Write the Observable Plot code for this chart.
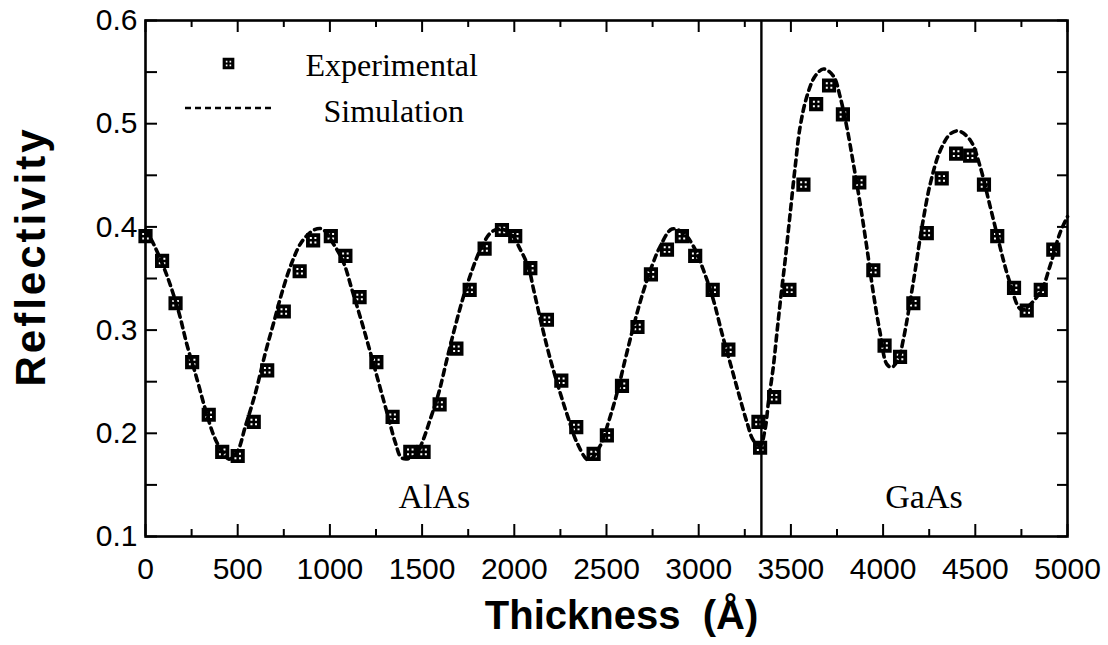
<!DOCTYPE html>
<html><head><meta charset="utf-8">
<script src="https://cdn.jsdelivr.net/npm/d3@7"></script>
<script src="https://cdn.jsdelivr.net/npm/@observablehq/plot@0.6"></script>
<style>body{margin:0;background:#fff}#chart{width:1108px;height:645px}</style>
</head><body><div id="chart"></div>
<script>
// Experimental points (thickness in Å, reflectivity)
const expX = [0, 90, 163, 253, 343, 416, 500, 587, 660, 750, 836, 909, 1005, 1084, 1161, 1252, 1340, 1436, 1508, 1595,
  1686, 1758, 1839, 1933, 2005, 2087, 2177, 2255, 2336, 2430, 2502, 2584, 2668, 2741, 2828, 2909, 2981, 3076, 3161, 3324,
  3333, 3409, 3492, 3568, 3637, 3707, 3782, 3871, 3947, 4008, 4092, 4164, 4237, 4318, 4396, 4472, 4547, 4619, 4710, 4779,
  4855, 4923];
const expY = [0.391, 0.367, 0.326, 0.269, 0.218, 0.182, 0.178, 0.211, 0.261, 0.318, 0.357, 0.387, 0.391, 0.372, 0.332, 0.269, 0.216, 0.182, 0.182, 0.228,
  0.282, 0.339, 0.379, 0.397, 0.391, 0.360, 0.310, 0.251, 0.206, 0.180, 0.198, 0.246, 0.303, 0.354, 0.378, 0.391, 0.372, 0.339, 0.281, 0.211,
  0.186, 0.235, 0.339, 0.441, 0.519, 0.537, 0.509, 0.443, 0.358, 0.285, 0.274, 0.326, 0.394, 0.447, 0.471, 0.469, 0.441, 0.391, 0.341, 0.319,
  0.339, 0.378];
// Simulation curve
const simX = [0, 45, 118, 181, 226, 280, 325, 370, 416, 452, 497, 542, 596, 650, 695, 741, 795, 849, 913, 958,
  1021, 1075, 1120, 1174, 1220, 1274, 1319, 1355, 1391, 1463, 1500, 1545, 1590, 1635, 1680, 1725, 1771, 1816, 1870, 1915, 1978, 2033, 2078,
  2105, 2150, 2195, 2249, 2294, 2340, 2403, 2466, 2511, 2557, 2602, 2647, 2692, 2746, 2791, 2855, 2918, 2972, 3026, 3080, 3126, 3171, 3216, 3261, 3297, 3333,
  3360, 3378, 3405, 3424, 3446, 3469, 3496, 3523, 3550, 3586, 3631, 3677, 3731, 3767, 3803, 3839, 3875, 3911, 3947, 3984, 4020, 4047, 4083, 4110,
  4166, 4211, 4256, 4310, 4364, 4409, 4473, 4527, 4572, 4616, 4652, 4688, 4750, 4850, 4905, 4959, 5000];
const simY = [0.397, 0.383, 0.352, 0.317, 0.285, 0.252, 0.223, 0.198, 0.182, 0.175, 0.182, 0.207, 0.239, 0.278, 0.307, 0.337, 0.366, 0.386, 0.397, 0.398,
  0.383, 0.365, 0.339, 0.307, 0.278, 0.243, 0.214, 0.191, 0.176, 0.178, 0.191, 0.214, 0.239, 0.272, 0.304, 0.333, 0.358, 0.378, 0.394, 0.398, 0.394, 0.378, 0.360,
  0.339, 0.304, 0.272, 0.239, 0.214, 0.191, 0.174, 0.188, 0.211, 0.239, 0.272, 0.304, 0.333, 0.362, 0.381, 0.398, 0.394, 0.381, 0.358, 0.329, 0.297, 0.268, 0.239, 0.211, 0.193, 0.188,
  0.204, 0.230, 0.265, 0.297, 0.333, 0.368, 0.413, 0.458, 0.497, 0.526, 0.546, 0.553, 0.546, 0.526, 0.497, 0.461, 0.423, 0.381, 0.336, 0.297, 0.267, 0.264, 0.272, 0.291,
  0.349, 0.400, 0.442, 0.474, 0.490, 0.493, 0.484, 0.458, 0.426, 0.394, 0.368, 0.346, 0.320, 0.336, 0.362, 0.394, 0.410];

const xTicks = [0, 500, 1000, 1500, 2000, 2500, 3000, 3500, 4000, 4500, 5000];
const xTickLabels = ["0", "500", "1000", "1500", "2000", "2500", "3000", "3500", "4000", "4500", "5000"];
const xMinor = [250, 750, 1250, 1750, 2250, 2750, 3250, 3750, 4250, 4750];
const yTicks = [0.1, 0.2, 0.3, 0.4, 0.5, 0.6];
const yTickLabels = ["0.1", "0.2", "0.3", "0.4", "0.5", "0.6"];
const yMinor = [0.15, 0.25, 0.35, 0.45, 0.55];
const boundary = [3340];
const regionNames = ["AlAs", "GaAs"];
const legendNames = ["Experimental", "Simulation"];

const expData = expX.map((x, i) => ({x, y: expY[i]}));
const simData = simX.map((x, i) => ({x, y: simY[i]}));

const W = 1108, H = 645, mL = 145, mR = 41, mT = 20, mB = 109;
const pxPerY = (H - mT - mB) / 0.5;      // pixels per reflectivity unit
const pxPerX = (W - mL - mR) / 5000;     // pixels per Å
const sans = "Liberation Sans, Arial, Helvetica, sans-serif";
const serif = "Liberation Serif, Times New Roman, serif";

// box symbol with four white windows
const boxSym = {draw(ctx, size) {
  const h = Math.sqrt(size) / 2;
  ctx.moveTo(-h, -h); ctx.lineTo(h, -h); ctx.lineTo(h, h); ctx.lineTo(-h, h); ctx.closePath();
  const w = h * 0.14, c = h * 0.32;
  for (const [cx, cy] of [[-c, -c], [c, -c], [-c, c], [c, c]]) {
    ctx.moveTo(cx - w, cy - w); ctx.lineTo(cx - w, cy + w); ctx.lineTo(cx + w, cy + w); ctx.lineTo(cx + w, cy - w); ctx.closePath();
  }
}};

const tickLenX = 12 / pxPerY, tickLenXm = 7 / pxPerY, tickLenY = 12 / pxPerX, tickLenYr = 10 / pxPerX;

const plot = Plot.plot({
  width: W, height: H,
  marginLeft: mL, marginRight: mR, marginTop: mT, marginBottom: mB,
  style: {background: "white", overflow: "visible", fontFamily: sans},
  x: {domain: [0, 5000], axis: null},
  y: {domain: [0.1, 0.6], axis: null},
  marks: [
    // inward ticks
    Plot.ruleX(xTicks, {x: d => d, y1: 0.1, y2: 0.1 + tickLenX, stroke: "black", strokeWidth: 2}),
    Plot.ruleX(xMinor, {x: d => d, y1: 0.1, y2: 0.1 + tickLenXm, stroke: "black", strokeWidth: 2}),
    Plot.ruleX(xTicks, {x: d => d, y1: 0.6, y2: 0.6 - tickLenX, stroke: "black", strokeWidth: 2}),
    Plot.ruleX(xMinor, {x: d => d, y1: 0.6, y2: 0.6 - tickLenXm, stroke: "black", strokeWidth: 2}),
    Plot.ruleY(yTicks.concat(yMinor), {y: d => d, x1: 0, x2: tickLenY, stroke: "black", strokeWidth: 2}),
    Plot.ruleY(yTicks.concat(yMinor), {y: d => d, x1: 5000, x2: 5000 - tickLenYr, stroke: "black", strokeWidth: 2}),
    Plot.ruleX(boundary, {stroke: "black", strokeWidth: 2.4}),
    Plot.frame({stroke: "black", strokeWidth: 2.6}),
    Plot.line(simData, {x: "x", y: "y", curve: "catmull-rom", stroke: "black", strokeWidth: 3.6, strokeDasharray: "6,5"}),
    Plot.dot(expData, {x: "x", y: "y", symbol: boxSym, r: 8, fill: "black", stroke: "none"}),
    // tick labels
    Plot.text(xTicks, {x: d => d, y: 0.1, text: (d, i) => xTickLabels[i], dy: 33, fontSize: 30, fontFamily: sans, fill: "black"}),
    Plot.text(yTicks, {x: 0, y: d => d, text: (d, i) => yTickLabels[i], dx: -8, textAnchor: "end", fontSize: 30, fontFamily: sans, fill: "black"}),
    // axis titles
    Plot.text(["Reflectivity"], {frameAnchor: "left", textAnchor: "middle", lineAnchor: "middle", dx: -114, dy: -22, rotate: -90, fontSize: 42, fontWeight: "bold", fontFamily: sans, fill: "black"}),
    Plot.text(["Thickness  (Å)"], {frameAnchor: "bottom", textAnchor: "middle", lineAnchor: "bottom", dx: 15, dy: 92, fontSize: 40, fontWeight: "bold", fontFamily: sans, fill: "black"}),
    // region labels
    Plot.text(regionNames, {x: [1566, 4222], y: [0.128, 0.128], lineAnchor: "bottom", fontSize: 34, fontFamily: serif, fill: "black"}),
    // legend
    Plot.dot([0], {frameAnchor: "top-left", dx: 83, dy: 43, symbol: boxSym, r: 6.6, fill: "black"}),
    Plot.text([legendNames[0]], {frameAnchor: "top-left", dx: 160, dy: 55, lineAnchor: "bottom", textAnchor: "start", fontSize: 32, fontFamily: serif, fill: "black"}),
    Plot.text([legendNames[1]], {frameAnchor: "top-left", dx: 178, dy: 101.7, lineAnchor: "bottom", textAnchor: "start", fontSize: 32, fontFamily: serif, fill: "black"})
  ]
});
document.getElementById("chart").appendChild(plot);
// spread the y-axis title letters like the original
d3.select(plot).selectAll("text").filter(function() { return this.textContent === "Reflectivity"; })
  .attr("letter-spacing", 3);
// legend dashed sample line
d3.select(plot).append("line")
  .attr("x1", 185).attr("x2", 275).attr("y1", 108).attr("y2", 108)
  .attr("stroke", "black").attr("stroke-width", 2.6).attr("stroke-dasharray", "6,4");
</script>
</body></html>
